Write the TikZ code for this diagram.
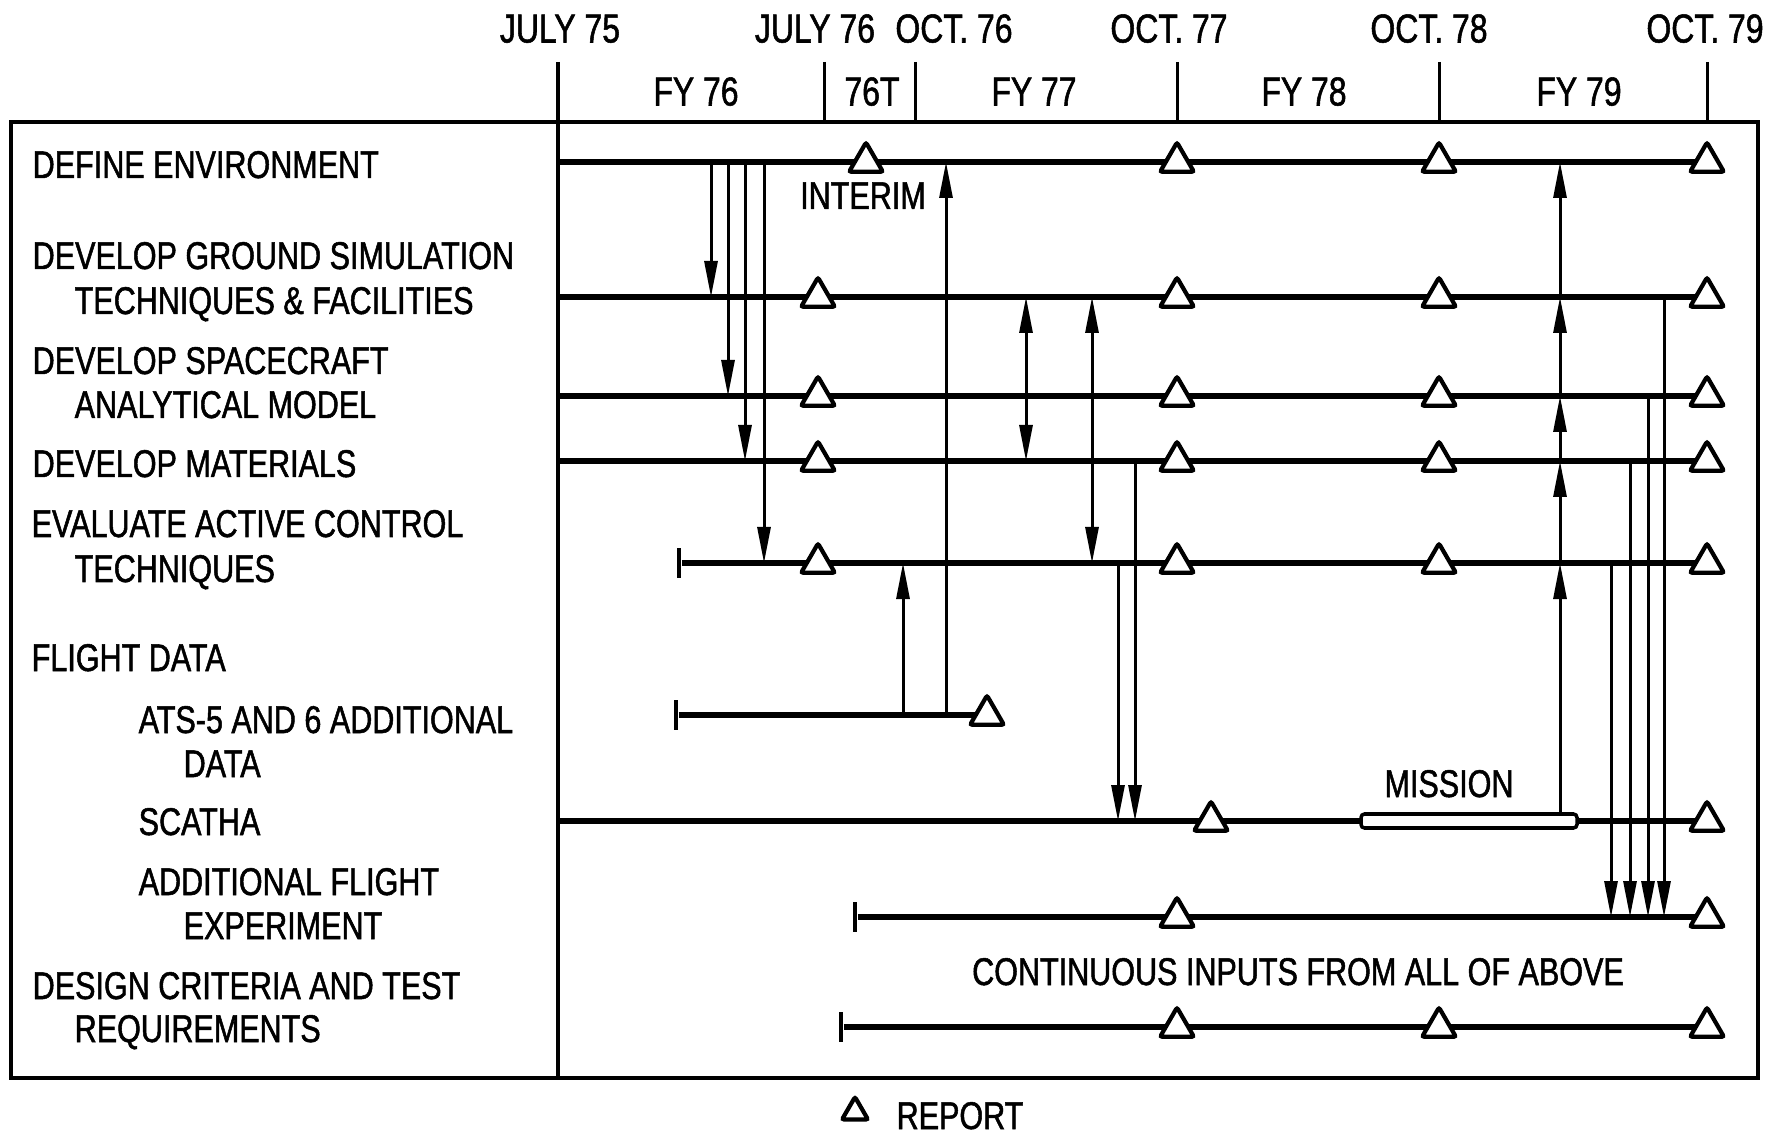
\documentclass[tikz,border=0pt]{standalone}
\usepackage{fontspec}
\setmainfont{Liberation Sans}[FakeStretch=0.79,FakeBold=1.3]
\usetikzlibrary{shapes.geometric,arrows.meta}
\tikzset{
  lbl/.style={anchor=west,inner sep=0pt,text height=2.8mm,text depth=0pt,font=\fontsize{11}{13}\selectfont},
  hdr/.style={inner sep=0pt,text height=2.9mm,text depth=0pt,font=\fontsize{11.5}{13}\selectfont},
  frame/.style={line width=0.9pt},
  rowline/.style={line width=1.6pt},
  link/.style={line width=0.85pt},
  arr/.style={link,-{Triangle[length=3.6mm,width=1.3mm]}},
  dbl/.style={link,{Triangle[length=3.6mm,width=1.3mm]}-{Triangle[length=3.6mm,width=1.3mm]}},
  rep/.style={regular polygon,regular polygon sides=3,draw,fill=white,line width=1.2pt,inner sep=0pt,minimum size=3.9mm,rounded corners=0.6pt},
  bar/.style={fill=black,inner sep=0pt,minimum width=1.2pt,minimum height=3mm},
  mission/.style={draw,fill=white,rounded corners=1pt,line width=1pt,inner sep=0pt,minimum width=2.16cm,minimum height=1.4mm},
}
\begin{document}
\begin{tikzpicture}
\useasboundingbox (0,0) rectangle (17.75,-11.32);
\draw[frame] (0.11,-1.22) rectangle (17.58,-10.78);
\draw[frame] (5.58,-0.62) -- (5.58,-10.78);
\foreach \x in {8.24,9.15,11.77,14.39,17.07}
  \draw[link] (\x,-0.62) -- (\x,-1.22);
\node[hdr] (J75) at (5.60,-0.28) {JULY 75};
\node[hdr] (J76) at (8.15,-0.28) {JULY 76};
\node[hdr] (O76) at (9.54,-0.28) {OCT. 76};
\node[hdr] (O77) at (11.69,-0.28) {OCT. 77};
\node[hdr] (O78) at (14.29,-0.28) {OCT. 78};
\node[hdr] (O79) at (17.05,-0.28) {OCT. 79};
\node[hdr] (F76) at (6.96,-0.91) {FY 76};
\node[hdr] (F76T) at (8.72,-0.91) {76T};
\node[hdr] (F77) at (10.34,-0.91) {FY 77};
\node[hdr] (F78) at (13.04,-0.91) {FY 78};
\node[hdr] (F79) at (15.79,-0.91) {FY 79};
\node[lbl] (L1) at (0.32,-1.64) {DEFINE ENVIRONMENT};
\node[lbl] (L2a) at (0.32,-2.55) {DEVELOP GROUND SIMULATION};
\node[lbl] (L2b) at (0.74,-3.00) {TECHNIQUES \& FACILITIES};
\node[lbl] (L3a) at (0.32,-3.60) {DEVELOP SPACECRAFT};
\node[lbl] (L3b) at (0.74,-4.04) {ANALYTICAL MODEL};
\node[lbl] (L4) at (0.32,-4.63) {DEVELOP MATERIALS};
\node[lbl] (L5a) at (0.31,-5.23) {EVALUATE ACTIVE CONTROL};
\node[lbl] (L5b) at (0.74,-5.68) {TECHNIQUES};
\node[lbl] (LF) at (0.31,-6.57) {FLIGHT DATA};
\node[lbl] (L6a) at (1.38,-7.19) {ATS-5 AND 6 ADDITIONAL};
\node[lbl] (L6b) at (1.83,-7.63) {DATA};
\node[lbl] (L7) at (1.38,-8.21) {SCATHA};
\node[lbl] (L8a) at (1.38,-8.81) {ADDITIONAL FLIGHT};
\node[lbl] (L8b) at (1.83,-9.25) {EXPERIMENT};
\node[lbl] (L9a) at (0.32,-9.85) {DESIGN CRITERIA AND TEST};
\node[lbl] (L9b) at (0.74,-10.28) {REQUIREMENTS};
\coordinate (R1) at (5.58,-1.62);
\coordinate (R2) at (5.58,-2.97);
\coordinate (R3) at (5.58,-3.96);
\coordinate (R4) at (5.58,-4.61);
\node[bar] (R5) at (6.79,-5.63) {};
\node[bar] (R6) at (6.76,-7.15) {};
\coordinate (R7) at (5.58,-8.21);
\node[bar] (R8) at (8.55,-9.17) {};
\node[bar] (R9) at (8.41,-10.27) {};
\coordinate (E1) at (17.07,-1.62);
\coordinate (E2) at (17.07,-2.97);
\coordinate (E3) at (17.07,-3.96);
\coordinate (E4) at (17.07,-4.61);
\coordinate (E5) at (17.07,-5.63);
\coordinate (E6) at (9.87,-7.15);
\coordinate (E7) at (17.07,-8.21);
\coordinate (E8) at (17.07,-9.17);
\coordinate (E9) at (17.07,-10.27);
\foreach \i in {1,...,9}
  \draw[rowline] (R\i) -- (E\i);
\foreach \x [count=\i] in {7.11,7.28,7.45,7.64,9.03,9.46,10.26,10.92,11.18,11.35,15.60,16.11,16.30,16.48,16.64}
  \coordinate (C\i) at (\x,0);
\draw[arr] (C1 |- R1) -- (C1 |- R2);
\draw[arr] (C2 |- R1) -- (C2 |- R3);
\draw[arr] (C3 |- R1) -- (C3 |- R4);
\draw[arr] (C4 |- R1) -- (C4 |- R5);
\draw[arr] (C5 |- R6) -- (C5 |- R5);
\draw[arr] (C6 |- R6) -- (C6 |- R1);
\draw[dbl] (C7 |- R2) -- (C7 |- R4);
\draw[dbl] (C8 |- R2) -- (C8 |- R5);
\draw[arr] (C9 |- R5) -- (C9 |- R7);
\draw[arr] (C10 |- R4) -- (C10 |- R7);
\node[mission] (M) at (14.69,-8.21) {};
\draw[arr] (C11 |- M.north) -- (C11 |- R5);
\foreach \a/\b in {R5/R4,R4/R3,R3/R2,R2/R1}
  \draw[arr] (C11 |- \a) -- (C11 |- \b);
\foreach \c/\r in {C12/R5,C13/R4,C14/R3,C15/R2}
  \draw[arr] (\c |- \r) -- (\c |- R8);
\foreach \x [count=\i] in {8.66,11.77,14.39,17.07}
  \node[rep] (T1\i) at (\x,-1.62) {};
\foreach \y [count=\j from 2] in {-2.97,-3.96,-4.61,-5.63}
  \foreach \x [count=\i] in {8.18,11.77,14.39,17.07}
    \node[rep] (T\j\i) at (\x,\y) {};
\node[rep] (T61) at (E6) {};
\node[rep] (T71) at (12.11,-8.21) {};
\node[rep] (T72) at (E7) {};
\node[rep] (T81) at (11.77,-9.17) {};
\node[rep] (T82) at (E8) {};
\foreach \x [count=\i] in {11.77,14.39,17.07}
  \node[rep] (T9\i) at (\x,-10.27) {};
\node[lbl,anchor=center] (INT) at (8.63,-1.95) {INTERIM};
\node[lbl,anchor=center] (MIS) at (14.49,-7.83) {MISSION};
\node[lbl,anchor=center] (CONT) at (12.98,-9.71) {CONTINUOUS INPUTS FROM ALL OF ABOVE};
\node[rep,fill=none,minimum size=3mm] (LT) at (8.55,-11.12) {};
\node[lbl,anchor=center] (LR) at (9.60,-11.15) {REPORT};
\end{tikzpicture}
\end{document}
